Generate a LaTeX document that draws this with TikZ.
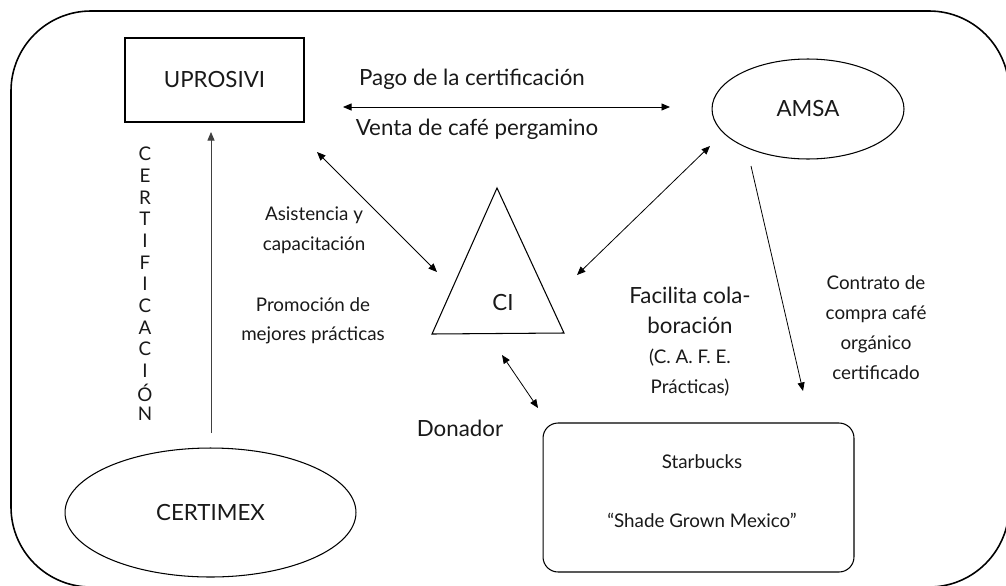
\documentclass[tikz,border=0pt]{standalone}
\usepackage{fontspec}
\setmainfont{Lato}
\usepackage{tikz}
\usetikzlibrary{shapes,arrows,arrows.meta,calc}
\tikzstyle{tsLarge} = [ 
    text=black!90, 
    inner sep=0pt,
    font=\fontsize{12.7}{14}\selectfont
]
\tikzstyle{tsSmall} = [ 
    tsLarge, 
    font=\fontsize{10.7}{12}\selectfont
]
\tikzstyle{tsRectangle} = [ 
    rectangle,
    tsLarge,               
    draw=black,
    line width=0.6pt]
\tikzstyle{tsEllipse} = [ 
    ellipse,
    tsLarge,               
    draw=black,
    line width=0.6pt]
\tikzstyle{tsArrow} = [ 
    draw=black,
    line width=0.45pt,
    -{Triangle[length=1.7mm,width=1.4mm]}]
\tikzstyle{tsArrowBoth} = [ 
    tsArrow,
    {Triangle[length=1.7mm,width=1.4mm]}-{Triangle[length=1.7mm,width=1.4mm]}]

\begin{document}
\begin{tikzpicture}[x=0.02cm, y=-0.02cm]

    \useasboundingbox (0,0) rectangle (1006,585);

    % outer frame
    \draw[line width=0.9pt, rounded corners=1.6cm] (11,11) rectangle (1009,587);

    \node[  tsRectangle, 
            minimum width=3.58cm,
            minimum height=1.68cm] (uprosivi) at (214.5,80) {UPROSIVI};

    \node[  tsEllipse, 
            minimum width=3.84cm,
            minimum height=2.0cm] (amsa) at (808,109) {AMSA};

    \node[  tsEllipse, 
            minimum width=5.82cm,
            minimum height=2.58cm] (certimex) at (210.5,512.5) {CERTIMEX};

    \node[  tsRectangle, 
            rounded corners=0.3cm,
            minimum width=6.22cm,
            minimum height=2.98cm] (starbucks) at (698.5,497.5) {};
    \node[tsSmall, anchor=base] (sbName) at (702,468) {Starbucks};
    \node[tsSmall, anchor=base] (sbShade) at (702,527) {``Shade Grown Mexico''};

    % CI triangle
    \coordinate (ciTop) at (497,188);
    \coordinate (ciLeft) at (432,334);
    \coordinate (ciRight) at (564,333);
    \draw[line width=0.6pt] (ciTop) -- (ciLeft) -- (ciRight) -- cycle;
    \node[tsLarge, anchor=base] (ci) at (503,310) {CI};

    % arrow ends
    \coordinate (pagoW) at (343,107);
    \coordinate (pagoE) at (670,107);
    \coordinate (asisN) at (317,152);
    \coordinate (asisS) at (437,272);
    \coordinate (colabN) at (710,146);
    \coordinate (colabS) at (577,275);
    \coordinate (contN) at (751,166);
    \coordinate (contS) at (803,391);
    \coordinate (donN) at (502,355);
    \coordinate (donS) at (538,408);
    \coordinate (certS) at (211,433);
    \coordinate (certN) at (211,132);

    \draw[tsArrowBoth] (pagoW) -- (pagoE);
    \draw[tsArrowBoth] (asisN) -- (asisS);
    \draw[tsArrowBoth] (colabN) -- (colabS);
    \draw[tsArrowBoth] (donN) -- (donS);
    \draw[tsArrow] (contN) -- (contS);
    \draw[tsArrow, draw=black!75] (certS) -- (certN);

    \node[tsLarge, anchor=base] (pago) at (472,85) {Pago de la certificación};
    \node[tsLarge, anchor=base] (venta) at (477,135) {Venta de café pergamino};

    \node[tsSmall, anchor=base] (asis1) at (314,220) {Asistencia y};
    \node[tsSmall, anchor=base] (asis2) at (314,250) {capacitación};
    \node[tsSmall, anchor=base] (prom1) at (313,311) {Promoción de};
    \node[tsSmall, anchor=base] (prom2) at (313,340) {mejores prácticas};

    \node[tsLarge, anchor=base] (donador) at (460,436) {Donador};

    \node[tsLarge, anchor=base] (colab1) at (690,303) {Facilita cola-};
    \node[tsLarge, anchor=base] (colab2) at (690,333) {boración};
    \node[tsSmall, anchor=base] (colab3) at (690,363) {(C. A. F. E.};
    \node[tsSmall, anchor=base] (colab4) at (690,393) {Prácticas)};

    \node[tsSmall, anchor=base] (cont1) at (876,289) {Contrato de};
    \node[tsSmall, anchor=base] (cont2) at (876,319) {compra café};
    \node[tsSmall, anchor=base] (cont3) at (876,349) {orgánico};
    \node[tsSmall, anchor=base] (cont4) at (876,379) {certificado};

    \foreach \l [count=\i] in {C,E,R,T,I,F,I,C,A,C,I,Ó,N}
        \node[tsSmall] (cert\i) at (145,{154+21.67*(\i-1)}) {\l};

\end{tikzpicture}
\end{document}
